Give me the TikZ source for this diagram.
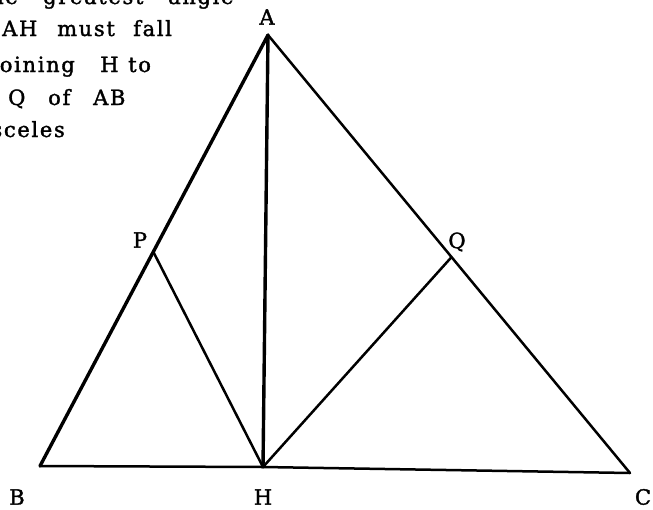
\documentclass[tikz,border=0pt]{standalone}
\usepackage{fontspec}
\setmainfont{DejaVu Serif}[LetterSpace=8,FakeBold=1.6]
\usetikzlibrary{calc}
\begin{document}
\begin{tikzpicture}[x=1pt,y=-1pt,
  lbl/.style={font=\fontsize{21}{24}\selectfont, inner sep=0pt},
  wrd/.style={font=\fontsize{21}{24}\selectfont, inner sep=0pt, anchor=base west},
  wrde/.style={font=\fontsize{21}{24}\selectfont, inner sep=0pt, anchor=base east},
  thick line/.style={line width=3.4pt, line cap=round, line join=round},
  thin line/.style={line width=2.5pt, line cap=round, line join=round}]
\useasboundingbox (0,0) rectangle (653,509);
\clip (0,0) rectangle (653,509);
% text fragments
\node[wrde] (t1a) at (18,4) {the};
\node[wrd] (t1b) at (43,4) {greatest};
\node[wrd] (t1c) at (168,4) {angle};
\node[wrd] (t2a) at (2,36) {AH};
\node[wrd] (t2b) at (57,36) {must};
\node[wrd] (t2c) at (133,36) {fall};
\node[wrde] (t3a) at (75,72) {joining};
\node[wrd] (t3b) at (100,72) {H};
\node[wrd] (t3c) at (128,72) {to};
\node[wrd] (t4a) at (8,105) {Q};
\node[wrd] (t4b) at (48,105) {of};
\node[wrd] (t4c) at (93,105) {AB};
\node[wrde] (t5a) at (65,137) {isosceles};
% points
\coordinate (A) at (268,35);
\coordinate (B) at (40,466);
\coordinate (H) at (263,467);
\coordinate (C) at (630,473);
\coordinate (P) at ($(A)!0.503!(B)$);
\coordinate (Q) at ($(A)!0.507!(C)$);
% lines
\draw[thick line] (A) -- (B);
\draw[thick line] (A) -- (H);
\draw[thin line] (A) -- (C);
\draw[thin line] (B) -- (H) -- (C);
\draw[thin line] (P) -- (H);
\draw[thin line] (H) -- (Q);
% labels
\node[lbl] (lA) at (267,17) {A};
\node[lbl] (lP) at (140,240) {P};
\node[lbl] (lQ) at (457,242) {Q};
\node[lbl] (lB) at (17,497) {B};
\node[lbl] (lH) at (263,497) {H};
\node[lbl] (lC) at (643,497) {C};
\end{tikzpicture}
\end{document}
